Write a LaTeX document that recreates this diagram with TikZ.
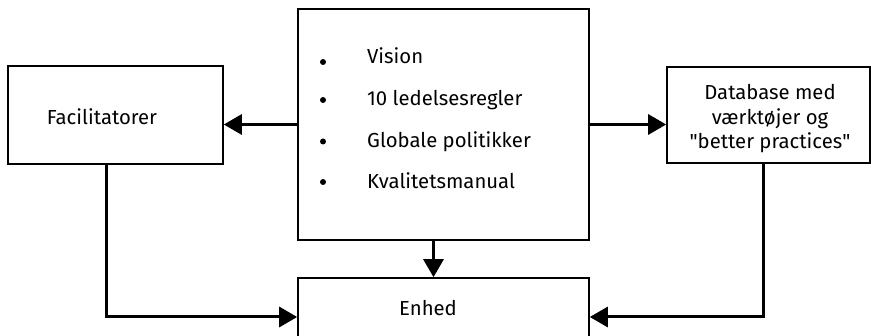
\documentclass[tikz,border=0pt]{standalone}
\usepackage{fontspec}
\setmainfont{Fira Sans}
\usetikzlibrary{arrows.meta, positioning, calc}

\begin{document}
\begin{tikzpicture}[
    x=1pt, y=-1pt,
    box/.style={draw, line width=1.6pt, rectangle, inner sep=0pt},
    txt/.style={font=\fontsize{20.3}{24.5}\selectfont, inner sep=0pt},
    arr/.style={-{Triangle[length=18pt, width=20pt]}, line width=3pt}
]
\useasboundingbox (0,0) rectangle (871,336);
\clip (0,0) rectangle (871,336);
\node[box, minimum width=215pt, minimum height=98pt] (fac) at (115.5,115) {};
\node[box, minimum width=291pt, minimum height=231pt] (ctr) at (443.5,124.5) {};
\node[box, minimum width=203pt, minimum height=96pt] (db) at (768.5,115) {};
\node[box, minimum width=291pt, minimum height=78pt] (enh) at (443.5,317) {};

\node[txt] (factxt) at (102,117) {Facilitatorer};
\node[txt, align=center] (dbtxt) at (770,119) {Database med\\værktøjer og\\\textquotedbl better practices\textquotedbl};
\node[txt] (enhtxt) at (428,308) {Enhed};

% bullets in the centre box
\foreach \y/\t/\d [count=\i] in {64/Vision/2, 106/10 ledelsesregler/6, 147.5/Globale politikker/6, 189/Kvalitetsmanual/7} {
    \fill (323,\y-\d) circle (3pt);
    \node[txt, anchor=base west] (item\i) at (367,\y) {\t};
}

\draw[arr] (ctr.west) -- (ctr.west -| fac.east);
\draw[arr] (ctr.east) -- (ctr.east -| db.west);
\draw[arr] ([xshift=-10pt]ctr.south) -- ([xshift=-10pt]ctr.south |- enh.north);
\draw[arr] ([xshift=-9.5pt]fac.south) |- (enh.west);
\draw[arr] ([xshift=-5.5pt]db.south) |- (enh.east);
\end{tikzpicture}
\end{document}
